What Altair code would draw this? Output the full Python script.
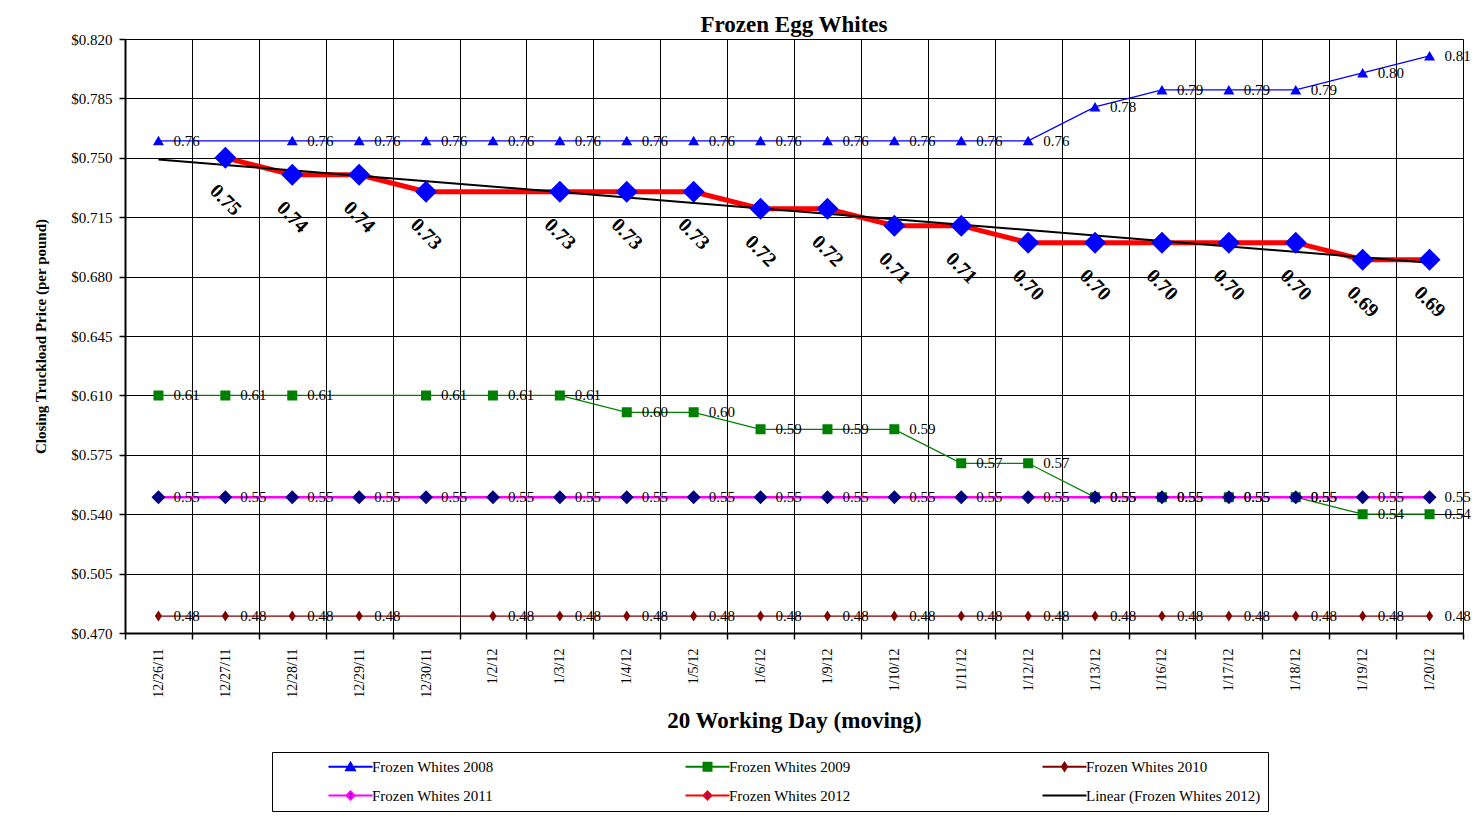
import altair as alt
import pandas as pd

SERIF = "Liberation Serif"

dates = ["12/26/11", "12/27/11", "12/28/11", "12/29/11", "12/30/11", "1/2/12", "1/3/12",
         "1/4/12", "1/5/12", "1/6/12", "1/9/12", "1/10/12", "1/11/12", "1/12/12",
         "1/13/12", "1/16/12", "1/17/12", "1/18/12", "1/19/12", "1/20/12"]

series_names = ["Frozen Whites 2008", "Frozen Whites 2009", "Frozen Whites 2010",
                "Frozen Whites 2011", "Frozen Whites 2012"]
trend_name = "Linear (Frozen Whites 2012)"

w2008 = [0.76, None, 0.76, 0.76, 0.76, 0.76, 0.76, 0.76, 0.76, 0.76, 0.76, 0.76, 0.76, 0.76,
         0.78, 0.79, 0.79, 0.79, 0.80, 0.81]
w2009 = [0.61, 0.61, 0.61, None, 0.61, 0.61, 0.61, 0.60, 0.60, 0.59, 0.59, 0.59, 0.57, 0.57,
         0.55, 0.55, 0.55, 0.55, 0.54, 0.54]
w2010 = [0.48, 0.48, 0.48, 0.48, None, 0.48, 0.48, 0.48, 0.48, 0.48, 0.48, 0.48, 0.48, 0.48,
         0.48, 0.48, 0.48, 0.48, 0.48, 0.48]
w2011 = [0.55, 0.55, 0.55, 0.55, 0.55, 0.55, 0.55, 0.55, 0.55, 0.55, 0.55, 0.55, 0.55, 0.55,
         0.55, 0.55, 0.55, 0.55, 0.55, 0.55]
w2012 = [None, 0.75, 0.74, 0.74, 0.73, None, 0.73, 0.73, 0.73, 0.72, 0.72, 0.71, 0.71, 0.70,
         0.70, 0.70, 0.70, 0.70, 0.69, 0.69]

y_ticks = [0.470, 0.505, 0.540, 0.575, 0.610, 0.645, 0.680, 0.715, 0.750, 0.785, 0.820]

legend_domain = series_names + [trend_name]
line_colors = ["#0000FF", "#008000", "#800000", "#FF00FF", "#FF0000", "#000000"]
marker_colors = ["#0000FF", "#008000", "#800000", "#000080", "#0000FF", "#000000"]
line_widths = [1.3, 1.3, 1.3, 2.5, 5, 2]
marker_sizes = [100, 100, 121, 196, 484, 0]
marker_paths = [
    "M-5.5,0H5.5M0,-1L1.1,0.9H-1.1Z",
    "M-5.5,0H5.5M-1,-1H1V1H-1Z",
    "M-5.5,0H5.5M0,-1L0.65,0L0,1L-0.65,0Z",
    "M-5.5,0H5.5M0,-1L1,0L0,1L-1,0Z",
    "M-5.5,0H5.5M0,-1L1,0L0,1L-1,0Z",
    "M-5.5,0H5.5",
]

rows = []
for name, vals in zip(series_names, [w2008, w2009, w2010, w2011, w2012]):
    for i, (d, v) in enumerate(zip(dates, vals)):
        if v is not None:
            rows.append({"date": d, "idx": i, "series": name, "value": v})
df = pd.DataFrame(rows)
dates_df = pd.DataFrame({"idx": list(range(len(dates))), "date": dates})

x_axis = alt.Axis(
    title="20 Working Day (moving)", labelAngle=-90, labelFont=SERIF, labelFontSize=14,
    labelColor="black", labelPadding=9, tickBand="extent", grid=True, gridColor="black",
    gridWidth=1, gridOpacity=1, domainColor="black", domainWidth=2, tickColor="black",
    tickSize=6, tickWidth=1.5, titleFont=SERIF, titleFontSize=23, titleFontWeight="bold",
    titleColor="black", titleY=87, titleBaseline="middle",
)
y_axis = alt.Axis(
    title="Closing Truckload Price (per pound)", values=y_ticks, format="$.3f",
    labelFont=SERIF, labelFontSize=15, labelColor="black", labelPadding=7, grid=True,
    gridColor="black", gridWidth=1, gridOpacity=1, domainColor="black", domainWidth=2,
    tickColor="black", tickSize=6, tickWidth=1.5, titleFont=SERIF, titleFontSize=15,
    titleFontWeight="bold", titleColor="black", titleX=-85, titleY=297,
    titleBaseline="middle", titleAlign="center",
)

x = alt.X("date:N", sort=dates,
          scale=alt.Scale(domain=dates, paddingInner=0, paddingOuter=0), axis=x_axis)
y = alt.Y("value:Q", scale=alt.Scale(domain=[0.47, 0.82], nice=False, zero=False), axis=y_axis)

leg = alt.Legend(
    title=None, orient="none", direction="horizontal", legendX=147, legendY=713, columns=3,
    gridAlign="all", columnPadding=89, rowPadding=12, padding=7, strokeColor="black",
    labelFont=SERIF, labelFontSize=15, labelColor="black", symbolSize=64,
    symbolStrokeWidth=2, symbolOffset=64, labelOffset=14, labelLimit=400,
)

stroke_enc = alt.Stroke("series:N", scale=alt.Scale(domain=legend_domain, range=line_colors), legend=leg)
fill_enc = alt.Fill("series:N", scale=alt.Scale(domain=legend_domain, range=marker_colors), legend=leg)
shape_enc = alt.Shape("series:N", scale=alt.Scale(domain=legend_domain, range=marker_paths), legend=leg)

base = alt.Chart(df)

line_layers = []
point_layers = []
for name, lw, ms in zip(series_names, line_widths, marker_sizes):
    sub = base.transform_filter(alt.datum.series == name)
    line_layers.append(
        sub.mark_line(strokeWidth=lw).encode(x=x, y=y, stroke=stroke_enc, order=alt.Order("idx:Q"))
    )
    point_layers.append(
        sub.mark_point(filled=True, opacity=1, size=ms).encode(x=x, y=y, fill=fill_enc, shape=shape_enc)
    )

trend = (
    base.transform_filter(alt.datum.series == "Frozen Whites 2012")
    .transform_regression("idx", "value", extent=[0, len(dates) - 1])
    .transform_lookup(lookup="idx", from_=alt.LookupData(dates_df, "idx", ["date"]))
    .mark_line(color="black", strokeWidth=2)
    .encode(x=x, y=y, order=alt.Order("idx:Q"))
)

labels = base.transform_filter(alt.datum.series != "Frozen Whites 2012").mark_text(
    align="left", baseline="middle", dx=15, font=SERIF, fontSize=15, color="black"
).encode(x=x, y=y, text=alt.Text("value:Q", format=".2f"))

labels12 = base.transform_filter(alt.datum.series == "Frozen Whites 2012").mark_text(
    align="center", baseline="middle", angle=45, dx=30, dy=30, font=SERIF, fontSize=20,
    fontWeight="bold", color="black"
).encode(x=x, y=y, text=alt.Text("value:Q", format=".2f"))

layers = line_layers[:4] + [line_layers[4], trend] + point_layers + [labels, labels12]

chart = (
    alt.layer(*layers)
    .properties(
        width=1338, height=594,
        autosize=alt.AutoSizeParams(type="none"),
        padding={"left": 117, "top": 31, "right": 11, "bottom": 180},
        title=alt.TitleParams("Frozen Egg Whites", font=SERIF, fontSize=23, fontWeight="bold",
                              color="black", anchor="middle", offset=6, dy=11),
    )
    .configure_view(stroke="black", strokeWidth=1.5)
    .configure(background="white")
)

chart.save("out.html", embed_options={"renderer": "svg", "actions": False})
